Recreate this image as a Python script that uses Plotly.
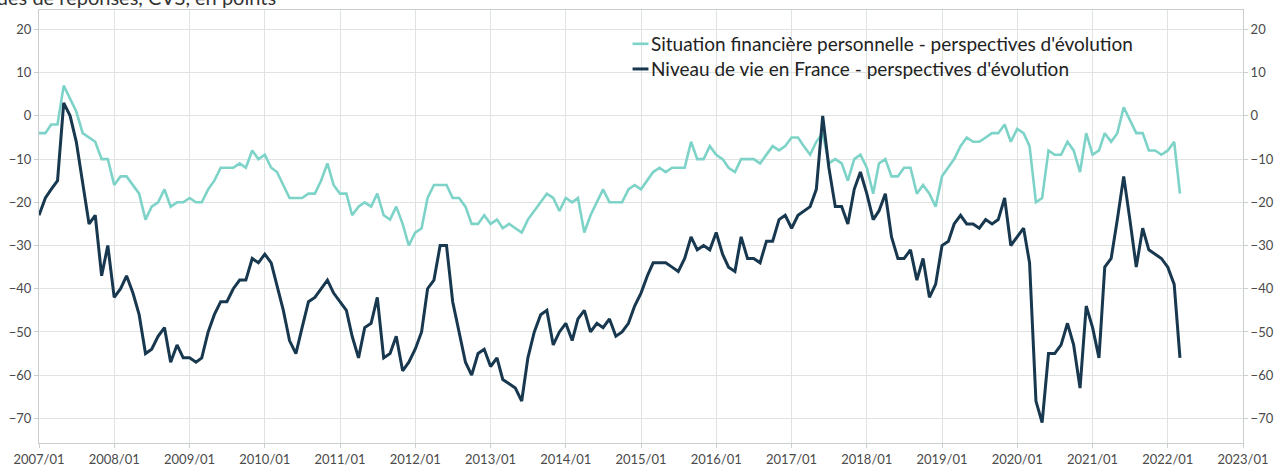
import pandas as pd
import plotly.graph_objects as go

# ---- data (monthly, 2007/01 .. 2022/03) ----
start_month = "2007-01-01"
n_months = 183

situation_perso = [
    -4, -4, -2, -2, 7, 4, 1, -4, -5, -6, -10, -10,
    -16, -14, -14, -16, -18, -24, -21, -20, -17, -21, -20, -20,
    -19, -20, -20, -17, -15, -12, -12, -12, -11, -12, -8, -10,
    -9, -12, -13, -16, -19, -19, -19, -18, -18, -15, -11, -16,
    -18, -18, -23, -21, -20, -21, -18, -23, -24, -21, -25, -30,
    -27, -26, -19, -16, -16, -16, -19, -19, -21, -25, -25, -23,
    -25, -24, -26, -25, -26, -27, -24, -22, -20, -18, -19, -22,
    -19, -20, -19, -27, -23, -20, -17, -20, -20, -20, -17, -16,
    -17, -15, -13, -12, -13, -12, -12, -12, -6, -10, -10, -7,
    -9, -10, -12, -13, -10, -10, -10, -11, -9, -7, -8, -7,
    -5, -5, -7, -9, -6, -4, -11, -10, -11, -15, -10, -9,
    -12, -18, -11, -10, -14, -14, -12, -12, -18, -16, -18, -21,
    -14, -12, -10, -7, -5, -6, -6, -5, -4, -4, -2, -6,
    -3, -4, -7, -20, -19, -8, -9, -9, -6, -8, -13, -4,
    -9, -8, -4, -6, -4, 2, -1, -4, -4, -8, -8, -9,
    -8, -6, -18,
]

niveau_vie = [
    -23, -19, -17, -15, 3, 0, -6, -15, -25, -23, -37, -30,
    -42, -40, -37, -41, -46, -55, -54, -51, -49, -57, -53, -56,
    -56, -57, -56, -50, -46, -43, -43, -40, -38, -38, -33, -34,
    -32, -34, -39, -45, -52, -55, -49, -43, -42, -40, -38, -41,
    -43, -45, -51, -56, -49, -48, -42, -56, -55, -51, -59, -57,
    -54, -50, -40, -38, -30, -30, -43, -50, -57, -60, -55, -54,
    -58, -56, -61, -62, -63, -66, -56, -50, -46, -45, -53, -50,
    -48, -52, -47, -45, -50, -48, -49, -47, -51, -50, -48, -44,
    -41, -37, -34, -34, -34, -35, -36, -33, -28, -31, -30, -31,
    -27, -32, -35, -36, -28, -33, -33, -34, -29, -29, -24, -23,
    -26, -23, -22, -21, -17, 0, -12, -21, -21, -25, -17, -13,
    -18, -24, -22, -18, -28, -33, -33, -31, -38, -33, -42, -39,
    -30, -29, -25, -23, -25, -25, -26, -24, -25, -24, -19, -30,
    -28, -26, -34, -66, -71, -55, -55, -53, -48, -53, -63, -44,
    -49, -56, -35, -33, -24, -14, -24, -35, -26, -31, -32, -33,
    -35, -39, -56,
]

series_names = [
    "Situation financière personnelle - perspectives d'évolution",
    "Niveau de vie en France - perspectives d'évolution",
]
y_ticks = [20, 10, 0, -10, -20, -30, -40, -50, -60, -70]
subtitle = "Soldes de réponses, CVS, en points"

dates = pd.date_range(start_month, periods=n_months, freq="MS")

# ---- style ----
W, H = 1283, 476
ML, MR, MT, MB = 39, 31, 9, 19
PW, PH = W - ML - MR, H - MT - MB
TEAL = "#7dd3c8"
NAVY = "#17384f"
GRID = "#dfe4e3"
AXIS = "#c9cfcf"
TXT = "#4a4a4a"
FONT = "Lato"

def px(xp):
    return (xp - ML) / PW

def py(yp):
    return (H - MB - yp) / PH

fig = go.Figure()
fig.add_trace(go.Scatter(x=dates, y=situation_perso, mode="lines",
                         line=dict(color=TEAL, width=2.6), name=series_names[0],
                         showlegend=False))
fig.add_trace(go.Scatter(x=dates, y=niveau_vie, mode="lines",
                         line=dict(color=NAVY, width=3), name=series_names[1],
                         showlegend=False))
# invisible trace to anchor the right-hand axis
fig.add_trace(go.Scatter(x=dates, y=niveau_vie, mode="lines", yaxis="y2",
                         line=dict(color="rgba(0,0,0,0)", width=0),
                         showlegend=False, hoverinfo="skip"))

yrange = [-75.7, 24.5]
fig.update_layout(
    width=W, height=H,
    margin=dict(l=ML, r=MR, t=MT, b=MB),
    paper_bgcolor="white", plot_bgcolor="white",
    font=dict(family=FONT, color=TXT, size=13),
    xaxis=dict(
        type="date", range=["2007-01-01", "2023-01-01"],
        dtick="M12", tick0="2007-01-01", tickformat="%Y/%m",
        showgrid=True, gridcolor=GRID, gridwidth=1,
        showline=True, linecolor=AXIS, linewidth=1, mirror=True,
        ticks="outside", ticklen=4, tickcolor=AXIS,
        tickfont=dict(family=FONT, size=13, color=TXT),
        zeroline=False,
    ),
    yaxis=dict(
        range=yrange, tickvals=y_ticks,
        showgrid=True, gridcolor=GRID, gridwidth=1,
        showline=True, linecolor=AXIS, linewidth=1,
        ticks="outside", ticklen=4, tickcolor=AXIS,
        tickfont=dict(family=FONT, size=13, color=TXT),
        zeroline=False,
    ),
    yaxis2=dict(
        range=yrange, tickvals=y_ticks, overlaying="y", side="right",
        showgrid=False, showline=True, linecolor=AXIS, linewidth=1,
        ticks="outside", ticklen=4, tickcolor=AXIS,
        tickfont=dict(family=FONT, size=13, color=TXT),
        zeroline=False,
    ),
)

# legend drawn as shapes + text
leg_rows = [(44, TEAL, 2.6, series_names[0]), (70, NAVY, 3, series_names[1])]
for ypix, col, wid, label in leg_rows:
    fig.add_shape(type="line", xref="paper", yref="paper",
                  x0=px(637), x1=px(653), y0=py(ypix), y1=py(ypix),
                  line=dict(color=col, width=wid))
    fig.add_annotation(xref="paper", yref="paper", x=px(654), y=py(ypix),
                       xanchor="left", yanchor="middle", showarrow=False,
                       text=label, font=dict(family=FONT, size=19, color="#222222"))

fig.add_annotation(xref="paper", yref="paper", x=px(280), y=py(10),
                   xanchor="right", yanchor="bottom", showarrow=False,
                   text=subtitle, font=dict(family=FONT, size=20, color="#333333"))

fig.write_html("out.html")
